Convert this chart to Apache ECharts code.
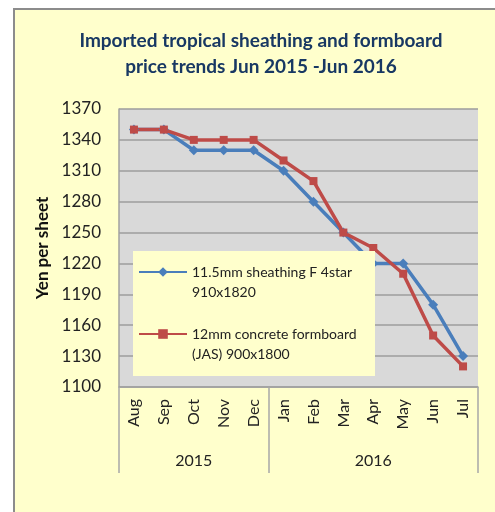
<!DOCTYPE html>
<html>
<head>
<meta charset="utf-8">
<script src="https://cdn.jsdelivr.net/npm/echarts@6/dist/echarts.min.js"></script>
<style>
  html, body { margin: 0; padding: 0; background: #ffffff; }
  #frame { position: absolute; left: 13px; top: 8px; width: 490px; height: 510px;
           background: #FFFFCC; border-left: 2px solid #8C8C8C; border-top: 2px solid #8C8C8C; }
  #chart { position: absolute; left: 0; top: 0; width: 495px; height: 512px; }
</style>
</head>
<body>
<div id="frame"></div>
<div id="chart"></div>
<script>
const months = ['Aug','Sep','Oct','Nov','Dec','Jan','Feb','Mar','Apr','May','Jun','Jul'];
const yearLabels = ['2015', '2016'];
const yearSpans = [5, 7];
const sheathing = [1350, 1350, 1330, 1330, 1330, 1310, 1280, 1250, 1220, 1220, 1180, 1130];
const formboard = [1350, 1350, 1340, 1340, 1340, 1320, 1300, 1250, 1235, 1210, 1150, 1120];
const seriesNames = ['11.5mm sheathing F 4star\n910x1820', '12mm concrete formboard\n(JAS) 900x1800'];
const yTicks = { min: 1100, max: 1370, interval: 30 };

// group boundaries and centre indices for the year axis
const groupStarts = [];
const groupCentres = {};
let acc = 0;
yearSpans.forEach((n, k) => { groupStarts.push(acc); groupCentres[acc + (n - 1) / 2] = yearLabels[k]; acc += n; });

const FONT = 'Lato';
const chart = echarts.init(document.getElementById('chart'), null, { renderer: 'canvas' });
chart.setOption({
  backgroundColor: 'transparent',
  animation: false,
  title: {
    text: 'Imported tropical sheathing and formboard\nprice trends Jun 2015 -Jun 2016',
    left: 261, top: 28, textAlign: 'center', padding: 0,
    textStyle: { fontFamily: FONT, fontSize: 19, fontWeight: 'bold', color: '#183863', lineHeight: 26 }
  },
  grid: { left: 119, right: 17, top: 109, bottom: 125, show: true, backgroundColor: '#D9D9D9', borderWidth: 0, containLabel: false },
  legend: {
    orient: 'vertical', left: 133, top: 251,
    backgroundColor: '#FFFFCC',
    padding: [-9, 7, 12, 5],
    itemGap: 2, itemWidth: 48, itemHeight: 12,
    formatter: (name) => ' \n' + name,
    textStyle: { fontFamily: FONT, fontSize: 14, color: '#222', lineHeight: 20, width: 176 },
    data: seriesNames
  },
  xAxis: [
    {
      type: 'category', data: months, boundaryGap: true,
      axisLine: { show: true, lineStyle: { color: '#A0A0A0', width: 1.5 } },
      axisTick: { show: false },
      axisLabel: { rotate: 90, interval: 0, margin: 12, fontFamily: FONT, fontSize: 16, color: '#222' }
    },
    {
      type: 'category', data: months, boundaryGap: true, position: 'bottom', offset: 0,
      axisLine: { show: false },
      axisTick: { show: true, length: 86, interval: (i) => groupStarts.indexOf(i) >= 0, lineStyle: { color: '#A8A8A8', width: 1.5 } },
      axisLabel: { interval: 0, margin: 66, fontFamily: FONT, fontSize: 16, color: '#222',
                   formatter: (v, i) => groupCentres[i] || '' }
    }
  ],
  yAxis: {
    type: 'value', min: yTicks.min, max: yTicks.max, interval: yTicks.interval,
    name: 'Yen per sheet', nameLocation: 'middle', nameGap: 62, nameRotate: 90,
    nameTextStyle: { fontFamily: FONT, fontSize: 17, fontWeight: 'bold', color: '#111' },
    axisLine: { show: true, lineStyle: { color: '#A0A0A0', width: 1.5 } },
    axisTick: { show: false },
    axisLabel: { margin: 18, fontFamily: FONT, fontSize: 17, color: '#222', formatter: (v) => String(v) },
    splitLine: { show: true, lineStyle: { color: '#9C9C9C', width: 1.5 } }
  },
  series: [
    {
      name: seriesNames[0], type: 'line', data: sheathing, xAxisIndex: 0,
      symbol: 'diamond', symbolSize: 10,
      lineStyle: { color: '#4A7EBB', width: 3.5 }, itemStyle: { color: '#4A7EBB' }
    },
    {
      name: seriesNames[1], type: 'line', data: formboard, xAxisIndex: 0,
      symbol: 'rect', symbolSize: 8,
      lineStyle: { color: '#BE4B48', width: 3.5 }, itemStyle: { color: '#BE4B48' }
    }
  ]
});
</script>
</body>
</html>
